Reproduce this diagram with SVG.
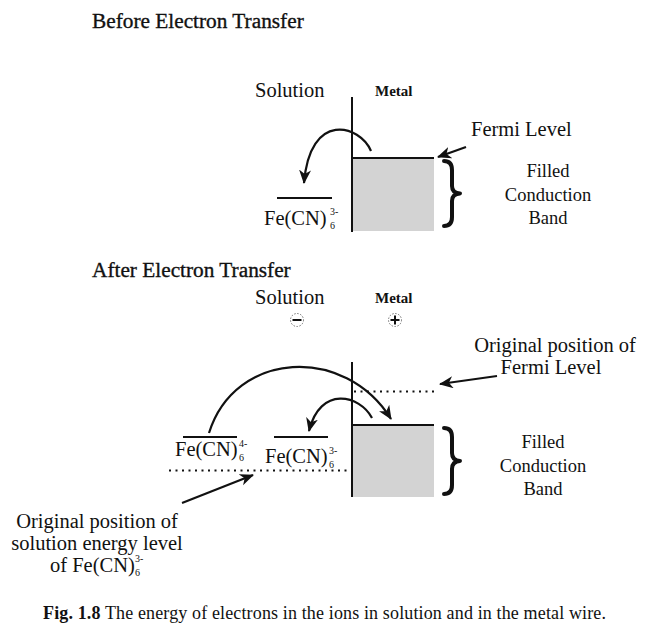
<svg xmlns="http://www.w3.org/2000/svg" width="649" height="635" viewBox="0 0 649 635">
<defs>
<style>
text{font-family:"Liberation Serif","Times New Roman",serif;fill:#111}
.h{font-size:21.3px;stroke:#111;stroke-width:0.35}
.l{font-size:20.5px}
.b{font-size:18.5px}
.m{font-size:15px;font-weight:bold}
.s{font-size:10px}
.c{text-anchor:middle}
.ln{stroke:#111;stroke-width:2;fill:none}
.dot{stroke:#111;stroke-width:2;stroke-dasharray:2 4.5;fill:none}
.band{fill:#d3d3d3}
.brace{stroke:#111;stroke-width:4;fill:none;stroke-linecap:round;stroke-linejoin:round}
.arr{stroke:#111;stroke-width:2.2;fill:none;marker-end:url(#ah)}
.cap{font-size:18px}
</style>
<marker id="ah" markerUnits="userSpaceOnUse" markerWidth="16" markerHeight="14" refX="13" refY="6" orient="auto">
<path d="M0,0 L14,6 L0,12 L4,6 Z" fill="#111"/>
</marker>
</defs>
<rect width="649" height="635" fill="#fff"/>

<g id="titles">
<text class="h" x="92" y="28">Before Electron Transfer</text>
<text class="h" x="92" y="277">After Electron Transfer</text>
</g>

<!-- BEFORE -->
<g id="before-solution-label"><text class="l" x="255" y="97">Solution</text></g>
<g id="before-metal-label"><text class="m" x="375" y="96">Metal</text></g>
<g id="before-metal">
<rect class="band" x="352" y="158" width="82" height="73"/>
<line class="ln" x1="352" y1="158" x2="434" y2="158"/>
<line class="ln" x1="352" y1="97" x2="352" y2="232"/>
</g>
<g id="before-fe3">
<line class="ln" x1="277" y1="198" x2="332" y2="198"/>
<text class="l" x="264" y="225" font-size="21">Fe(CN)</text>
<text class="s" x="330" y="215">3-</text>
<text class="s" x="330" y="229">6</text>
</g>
<g id="before-fermi-label"><text class="l" x="471" y="136">Fermi Level</text></g>
<g id="before-band-label">
<path class="brace" d="M444,161 Q452,161 452,170 L452,186 Q452,193 460,193.5 Q452,194 452,201 L452,217 Q452,226 444,226"/>
<text class="b c" x="548" y="177">Filled</text>
<text class="b c" x="548" y="201">Conduction</text>
<text class="b c" x="548" y="224">Band</text>
</g>

<!-- AFTER -->
<g id="after-solution-label">
<text class="l" x="255" y="304">Solution</text>
<circle cx="297" cy="320" r="6.5" fill="none" stroke="#555" stroke-width="0.8" stroke-dasharray="1.5 1.5"/>
<line x1="292.5" y1="320" x2="301.5" y2="320" stroke="#111" stroke-width="2"/>
</g>
<g id="after-metal-label">
<text class="m" x="375" y="303">Metal</text>
<circle cx="395" cy="320" r="6.5" fill="none" stroke="#555" stroke-width="0.8" stroke-dasharray="1.5 1.5"/>
<line x1="390.5" y1="320" x2="399.5" y2="320" stroke="#111" stroke-width="2"/>
<line x1="395" y1="315.5" x2="395" y2="324.5" stroke="#111" stroke-width="2"/>
</g>
<g id="after-metal">
<rect class="band" x="352" y="425" width="82" height="72"/>
<line class="ln" x1="352" y1="425" x2="434" y2="425"/>
<line class="dot" x1="354" y1="391.5" x2="436" y2="391.5"/>
<line class="ln" x1="352" y1="362" x2="352" y2="497"/>
</g>
<g id="after-fe4">
<line class="ln" x1="183" y1="437" x2="237" y2="437"/>
<text class="l" x="175" y="456">Fe(CN)</text>
<text class="s" x="239" y="447">4-</text>
<text class="s" x="239" y="461">6</text>
</g>
<g id="after-fe3">
<line class="ln" x1="274" y1="437" x2="328" y2="437"/>
<text class="l" x="265" y="463">Fe(CN)</text>
<text class="s" x="329" y="454">3-</text>
<text class="s" x="329" y="468">6</text>
</g>
<g id="after-solution-level">
<line class="dot" x1="169" y1="470.5" x2="352" y2="470.5"/>
</g>
<g id="after-fermi-label">
<text class="l c" x="555" y="352">Original position of</text>
<text class="l c" x="551" y="374">Fermi Level</text>
</g>
<g id="after-band-label">
<path class="brace" d="M444,428 Q452,428 452,437 L452,453 Q452,460.5 460,461 Q452,461.5 452,469 L452,485 Q452,494 444,494"/>
<text class="b c" x="543" y="448">Filled</text>
<text class="b c" x="543" y="472">Conduction</text>
<text class="b c" x="543" y="495">Band</text>
</g>
<g id="solution-level-label">
<text class="l c" x="97" y="528">Original position of</text>
<text class="l c" x="97" y="550">solution energy level</text>
<text class="l" x="50" y="572">of Fe(CN)</text>
<text class="s" x="135" y="562">3-</text>
<text class="s" x="135" y="576">6</text>
</g>

<g id="connectors">
<path class="arr" d="M371,151 C360,125 310,110 304,183"/>
<path class="arr" d="M466,147 L438,157"/>
<path class="arr" d="M209,433 C235,350 345,345 391,419"/>
<path class="arr" d="M372,418 C360,395 320,385 309,431"/>
<path class="arr" d="M497,376 L440,384"/>
<path class="arr" d="M182,503 L253,475"/>
</g>

<g id="caption">
<text class="cap" x="43" y="619" textLength="563" lengthAdjust="spacing"><tspan font-weight="bold">Fig. 1.8</tspan>  The energy of electrons in the ions in solution and in the metal wire.</text>
</g>
</svg>
